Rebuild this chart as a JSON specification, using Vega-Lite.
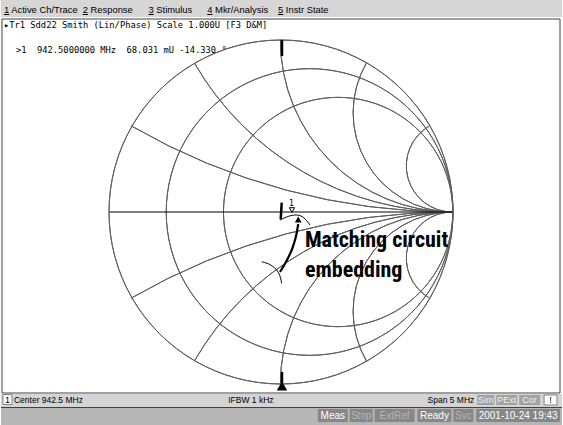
{
  "$schema": "https://vega.github.io/schema/vega-lite/v6.json",
  "width": 563,
  "height": 425,
  "padding": 0,
  "autosize": {"type": "fit", "contains": "padding"},
  "background": "white",
  "config": {"view": {"stroke": null}},
  "encoding": {
    "x": {"field": "x", "type": "quantitative", "scale": {"domain": [-1.63372, 1.63953], "nice": false, "zero": false}, "axis": null},
    "y": {"field": "y", "type": "quantitative", "scale": {"domain": [-1.23837, 1.23256], "nice": false, "zero": false}, "axis": null}
  },
  "layer": [
    {
      "data": {"values": [{"x": -1.63372, "x2": 1.63953, "y": 1.23256, "y2": 1.13372}]},
      "mark": {"type": "rect", "color": "#d6d6d6"},
      "encoding": {"x2": {"field": "x2"}, "y2": {"field": "y2"}}
    },
    {
      "data": {"values": [{"x": -1.62791, "x2": 1.62791, "y": 1.12209, "y2": -1.05233}]},
      "mark": {"type": "rect", "fill": "white", "stroke": "#404040", "strokeWidth": 1},
      "encoding": {"x2": {"field": "x2"}, "y2": {"field": "y2"}}
    },
    {
      "data": {"values": [{"x": -1.63372, "x2": 1.63953, "y": -1.05814, "y2": -1.13372}]},
      "mark": {"type": "rect", "color": "#d4d4d4"},
      "encoding": {"x2": {"field": "x2"}, "y2": {"field": "y2"}}
    },
    {
      "data": {"values": [{"x": -1.63372, "x2": 1.63953, "y": -1.13953, "y2": -1.23837}]},
      "mark": {"type": "rect", "color": "#b6b6b6"},
      "encoding": {"x2": {"field": "x2"}, "y2": {"field": "y2"}}
    },
    {
      "data": {"values": [{"x": -1.63372, "x2": 1.63953, "y": -1.13663}]},
      "mark": {"type": "rule", "color": "#404040", "strokeWidth": 1},
      "encoding": {"x2": {"field": "x2"}}
    },
    {
      "data": {"values": [
        {"name": "Meas", "x": 0.21512, "x2": 0.38953, "y": -1.14535, "y2": -1.22093},
        {"name": "Stop", "x": 0.40116, "x2": 0.53488, "y": -1.14535, "y2": -1.22093},
        {"name": "ExtRef", "x": 0.54651, "x2": 0.77907, "y": -1.14535, "y2": -1.22093},
        {"name": "Ready", "x": 0.79651, "x2": 0.99419, "y": -1.14535, "y2": -1.22093},
        {"name": "Svc", "x": 1.00581, "x2": 1.12209, "y": -1.14535, "y2": -1.22093},
        {"name": "date", "x": 1.13953, "x2": 1.62791, "y": -1.14535, "y2": -1.22093}
      ]},
      "mark": {"type": "rect", "color": "#878787"},
      "encoding": {"x2": {"field": "x2"}, "y2": {"field": "y2"}}
    },
    {
      "data": {"values": [
        {"name": "Sim", "x": 1.14535, "x2": 1.24419, "y": -1.06395, "y2": -1.12209},
        {"name": "PExt", "x": 1.25581, "x2": 1.37791, "y": -1.06395, "y2": -1.12209},
        {"name": "Cor", "x": 1.38953, "x2": 1.51163, "y": -1.06395, "y2": -1.12209}
      ]},
      "mark": {"type": "rect", "color": "#a2a2a2"},
      "encoding": {"x2": {"field": "x2"}, "y2": {"field": "y2"}}
    },
    {
      "data": {"values": [
        {"name": "ch", "x": -1.62209, "x2": -1.56977, "y": -1.06105, "y2": -1.11919},
        {"name": "warn", "x": 1.53488, "x2": 1.61047, "y": -1.06395, "y2": -1.12209}
      ]},
      "mark": {"type": "rect", "fill": "white", "stroke": "#808080", "strokeWidth": 1},
      "encoding": {"x2": {"field": "x2"}, "y2": {"field": "y2"}}
    },
    {
      "data": {"values": [
        {"r": 0, "x": 0, "y": 0, "rad": 1},
        {"r": 0.2, "x": 0.16667, "y": 0, "rad": 0.83333},
        {"r": 0.5, "x": 0.33333, "y": 0, "rad": 0.66667},
        {"r": 1, "x": 0.5, "y": 0, "rad": 0.5},
        {"r": 2, "x": 0.66667, "y": 0, "rad": 0.33333},
        {"r": 5, "x": 0.83333, "y": 0, "rad": 0.16667}
      ]},
      "mark": {"type": "arc", "filled": false, "stroke": "#5e5e5e", "strokeWidth": 1},
      "encoding": {
        "radius": {"field": "rad", "type": "quantitative", "scale": {"type": "linear", "domain": [0, 1], "range": [0, 172], "zero": true}},
        "radius2": {"field": "rad"},
        "theta": {"value": 0},
        "theta2": {"value": 6.28318}
      }
    },
    {
      "data": {"values": [
        {"xr": 0.26795, "x": 1, "y": 3.73205, "rad": 3.73205, "t1": 3.14159, "t2": 3.66519},
        {"xr": 0.57735, "x": 1, "y": 1.73205, "rad": 1.73205, "t1": 3.14159, "t2": 4.18879},
        {"xr": 1, "x": 1, "y": 1, "rad": 1, "t1": 3.14159, "t2": 4.71239},
        {"xr": 1.73205, "x": 1, "y": 0.57735, "rad": 0.57735, "t1": 3.14159, "t2": 5.23599},
        {"xr": 3.73205, "x": 1, "y": 0.26795, "rad": 0.26795, "t1": 3.14159, "t2": 5.75959},
        {"xr": -0.26795, "x": 1, "y": -3.73205, "rad": 3.73205, "t1": -0.5236, "t2": 0},
        {"xr": -0.57735, "x": 1, "y": -1.73205, "rad": 1.73205, "t1": -1.0472, "t2": 0},
        {"xr": -1, "x": 1, "y": -1, "rad": 1, "t1": -1.5708, "t2": 0},
        {"xr": -1.73205, "x": 1, "y": -0.57735, "rad": 0.57735, "t1": -2.0944, "t2": 0},
        {"xr": -3.73205, "x": 1, "y": -0.26795, "rad": 0.26795, "t1": -2.61799, "t2": 0}
      ]},
      "mark": {"type": "arc", "filled": false, "stroke": "#5e5e5e", "strokeWidth": 1},
      "encoding": {
        "radius": {"field": "rad", "type": "quantitative", "scale": {"type": "linear", "domain": [0, 1], "range": [0, 172], "zero": true}},
        "radius2": {"field": "rad"},
        "theta": {"field": "t1", "type": "quantitative", "scale": null, "stack": null},
        "theta2": {"field": "t2"}
      }
    },
    {
      "data": {"values": [{"x": -1, "x2": 1, "y": 0}]},
      "mark": {"type": "rule", "color": "#000000", "strokeWidth": 1},
      "encoding": {"x2": {"field": "x2"}}
    },
    {
      "data": {"values": [
        {"x": 0.00581, "y": 1.0, "y2": 0.90698},
        {"x": 0.00581, "y": -0.93023, "y2": -0.99419}
      ]},
      "mark": {"type": "rule", "color": "#000000", "strokeWidth": 2.5},
      "encoding": {"y2": {"field": "y2"}}
    },
    {
      "data": {"values": [{"x": 0.00581, "y": -1.01163}]},
      "mark": {"type": "point", "shape": "triangle-up", "filled": true, "color": "#000000", "size": 110, "opacity": 1}
    },
    {
      "data": {"values": [
        {"x": 0.00407, "y": 0.05407},
        {"x": 0.00116, "y": 0.00581},
        {"x": -0.00174, "y": -0.04244}
      ]},
      "mark": {"type": "line", "color": "#000000", "strokeWidth": 2.5, "interpolate": "monotone"}
    },
    {
      "data": {"values": [
        {"seg": "a", "x": -0.00581, "y": -0.04651},
        {"seg": "a", "x": 0.04264, "y": -0.02326},
        {"seg": "a", "x": 0.09109, "y": -0.01357},
        {"seg": "a", "x": 0.13372, "y": -0.02713},
        {"seg": "a", "x": 0.1686, "y": -0.07558},
        {"seg": "b", "x": -0.11221, "y": -0.28895},
        {"seg": "b", "x": -0.06395, "y": -0.30233},
        {"seg": "b", "x": -0.025, "y": -0.33314},
        {"seg": "b", "x": -0.00581, "y": -0.36628},
        {"seg": "b", "x": 0.00407, "y": -0.41453}
      ]},
      "mark": {"type": "line", "color": "#000000", "strokeWidth": 1, "interpolate": "basis"},
      "encoding": {"detail": {"field": "seg"}}
    },
    {
      "data": {"values": [
        {"x": -0.00581, "y": -0.34884},
        {"x": 0.03488, "y": -0.27907},
        {"x": 0.06977, "y": -0.20174},
        {"x": 0.09128, "y": -0.12384},
        {"x": 0.10058, "y": -0.06977}
      ]},
      "mark": {"type": "line", "color": "#000000", "strokeWidth": 2.2, "interpolate": "monotone"}
    },
    {
      "data": {"values": [{"x": 0.10058, "y": -0.0436}]},
      "mark": {"type": "point", "shape": "triangle-up", "filled": true, "color": "#000000", "size": 45, "opacity": 1}
    },
    {
      "data": {"values": [{"x": 0.06395, "y": 0.01163}]},
      "mark": {"type": "point", "shape": "triangle-down", "filled": false, "color": "#000000", "size": 28, "strokeWidth": 1, "opacity": 1}
    },
    {
      "data": {"values": [{"x": 0.06105, "y": 0.03779, "label": "1"}]},
      "mark": {"type": "text", "align": "center", "baseline": "alphabetic", "font": "DejaVu Sans Mono", "fontSize": 8, "color": "#000000"},
      "encoding": {"text": {"field": "label"}}
    },
    {
      "data": {"values": [
        {"x": -1.61628, "y": 1.15698, "label": "1 Active Ch/Trace"},
        {"x": -1.15698, "y": 1.15698, "label": "2 Response"},
        {"x": -0.77326, "y": 1.15698, "label": "3 Stimulus"},
        {"x": -0.43023, "y": 1.15698, "label": "4 Mkr/Analysis"},
        {"x": -0.01744, "y": 1.15698, "label": "5 Instr State"}
      ]},
      "mark": {"type": "text", "align": "left", "baseline": "alphabetic", "font": "Liberation Sans", "fontSize": 9.4, "color": "#000000"},
      "encoding": {"text": {"field": "label"}}
    },
    {
      "data": {"values": [
        {"x": -1.61628, "x2": -1.58605, "y": 1.14826},
        {"x": -1.15698, "x2": -1.12674, "y": 1.14826},
        {"x": -0.77326, "x2": -0.74302, "y": 1.14826},
        {"x": -0.43023, "x2": -0.40000, "y": 1.14826},
        {"x": -0.01744, "x2": 0.01279, "y": 1.14826}
      ]},
      "mark": {"type": "rule", "color": "#000000", "strokeWidth": 1},
      "encoding": {"x2": {"field": "x2"}}
    },
    {
      "data": {"values": [
        {"x": -1.61628, "y": 1.06977, "label": "▸Tr1 Sdd22 Smith (Lin/Phase) Scale 1.000U [F3 D&M]"},
        {"x": -1.54651, "y": 0.92442, "label": ">1\u00a0\u00a0942.5000000 MHz\u00a0\u00a068.031 mU -14.330 °"}
      ]},
      "mark": {"type": "text", "align": "left", "baseline": "alphabetic", "font": "DejaVu Sans Mono", "fontSize": 8.75, "color": "#000000"},
      "encoding": {"text": {"field": "label"}}
    },
    {
      "data": {"values": [
        {"x": 0.13953, "y": -0.20349, "label": "Matching circuit"},
        {"x": 0.13953, "y": -0.38081, "label": "embedding"}
      ]},
      "mark": {"type": "text", "align": "left", "baseline": "alphabetic", "font": "Liberation Sans Narrow, Roboto Condensed, DejaVu Sans Condensed, Liberation Sans", "fontSize": 22, "fontWeight": "bold", "color": "#000000"},
      "encoding": {"text": {"field": "label"}}
    },
    {
      "data": {"values": [
        {"x": -1.55814, "y": -1.11047, "label": "Center 942.5 MHz"},
        {"x": -0.30814, "y": -1.11047, "label": "IFBW 1 kHz"}
      ]},
      "mark": {"type": "text", "align": "left", "baseline": "alphabetic", "font": "Liberation Sans", "fontSize": 8.5, "color": "#000000"},
      "encoding": {"text": {"field": "label"}}
    },
    {
      "data": {"values": [
        {"x": 1.12791, "y": -1.11047, "label": "Span 5 MHz"}
      ]},
      "mark": {"type": "text", "align": "right", "baseline": "alphabetic", "font": "Liberation Sans", "fontSize": 8.5, "color": "#000000"},
      "encoding": {"text": {"field": "label"}}
    },
    {
      "data": {"values": [
        {"x": -1.59593, "y": -1.11047, "label": "1"},
        {"x": 1.57267, "y": -1.11047, "label": "!"}
      ]},
      "mark": {"type": "text", "align": "center", "baseline": "alphabetic", "font": "Liberation Sans", "fontSize": 9, "color": "#000000"},
      "encoding": {"text": {"field": "label"}}
    },
    {
      "data": {"values": [
        {"x": 1.19477, "y": -1.11047, "label": "Sim"},
        {"x": 1.31686, "y": -1.11047, "label": "PExt"},
        {"x": 1.45058, "y": -1.11047, "label": "Cor"}
      ]},
      "mark": {"type": "text", "align": "center", "baseline": "alphabetic", "font": "Liberation Sans", "fontSize": 9, "color": "#f0f0f0"},
      "encoding": {"text": {"field": "label"}}
    },
    {
      "data": {"values": [
        {"x": 0.30233, "y": -1.20349, "label": "Meas"},
        {"x": 0.89535, "y": -1.20349, "label": "Ready"},
        {"x": 1.38372, "y": -1.20349, "label": "2001-10-24 19:43"}
      ]},
      "mark": {"type": "text", "align": "center", "baseline": "alphabetic", "font": "Liberation Sans", "fontSize": 10, "color": "#ffffff"},
      "encoding": {"text": {"field": "label"}}
    },
    {
      "data": {"values": [
        {"x": 0.46802, "y": -1.20349, "label": "Stop"},
        {"x": 0.66279, "y": -1.20349, "label": "ExtRef"},
        {"x": 1.06395, "y": -1.20349, "label": "Svc"}
      ]},
      "mark": {"type": "text", "align": "center", "baseline": "alphabetic", "font": "Liberation Sans", "fontSize": 10, "color": "#b4b4b4"},
      "encoding": {"text": {"field": "label"}}
    }
  ]
}
